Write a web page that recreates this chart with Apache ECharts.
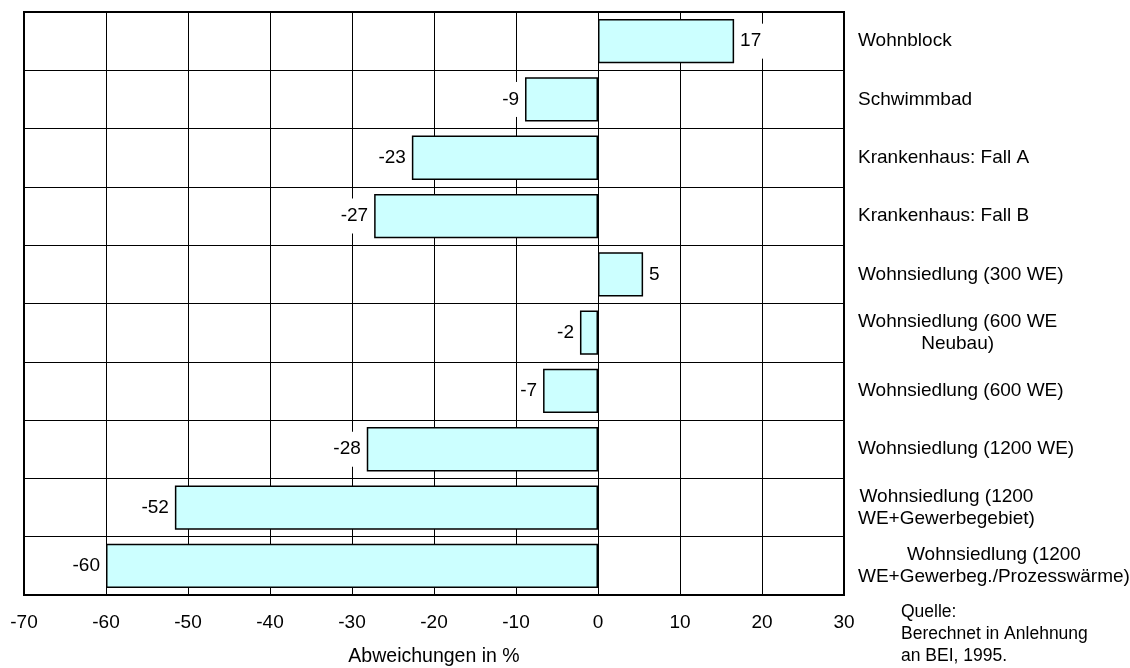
<!DOCTYPE html>
<html>
<head>
<meta charset="utf-8">
<script src="https://cdn.jsdelivr.net/npm/echarts@6/dist/echarts.min.js"></script>
<style>
html,body{margin:0;padding:0;background:#fff;}
#chart{width:1130px;height:668px;}
</style>
</head>
<body>
<div id="chart"></div>
<script>
const categories = [
  "Wohnblock",
  "Schwimmbad",
  "Krankenhaus: Fall A",
  "Krankenhaus: Fall B",
  "Wohnsiedlung (300 WE)",
  "Wohnsiedlung (600 WE\nNeubau)",
  "Wohnsiedlung (600 WE)",
  "Wohnsiedlung (1200 WE)",
  "Wohnsiedlung (1200\nWE+Gewerbegebiet)",
  "Wohnsiedlung (1200\nWE+Gewerbeg./Prozesswärme)"
];
const values = [16.6, -8.9, -22.7, -27.3, 5.5, -2.2, -6.7, -28.2, -51.6, -60.0];
const valueLabels = [17, -9, -23, -27, 5, -2, -7, -28, -52, -60];
const xTicks = { min: -70, max: 30, interval: 10 };
const axisTitle = "Abweichungen in %";
const sourceNote = "Quelle:\nBerechnet in Anlehnung\nan BEI, 1995.";

const FONT = '"Liberation Sans", Arial, sans-serif';
const FS = 19;
const chart = echarts.init(document.getElementById('chart'), null, { renderer: 'canvas' });

chart.setOption({
  animation: false,
  backgroundColor: '#fff',
  textStyle: { fontFamily: FONT, color: '#000' },
  grid: {
    left: 24, right: 286, top: 12, bottom: 73,
    outerBoundsMode: 'none',
    containLabel: false,
    show: true, borderColor: '#000', borderWidth: 2, backgroundColor: 'transparent'
  },
  xAxis: {
    type: 'value',
    min: xTicks.min, max: xTicks.max, interval: xTicks.interval,
    axisLine: { show: false },
    axisTick: { show: false },
    axisLabel: { color: '#000', fontSize: FS, fontFamily: FONT, margin: 18 },
    splitLine: { show: true, lineStyle: { color: '#000', width: 1 } },
    name: axisTitle,
    nameLocation: 'middle',
    nameGap: 52,
    nameTextStyle: { color: '#000', fontSize: 19.5, fontFamily: FONT }
  },
  yAxis: {
    type: 'category',
    data: categories,
    inverse: true,
    position: 'right',
    axisLine: { show: false },
    axisTick: { show: false },
    splitLine: { show: true, lineStyle: { color: '#000', width: 1 } },
    axisLabel: {
      align: 'left',
      margin: 14,
      color: '#000',
      fontSize: FS,
      lineHeight: 22,
      fontFamily: FONT,
      formatter: function (v) {
        return v.split('\n').map(function (l) { return '{c|' + l + '}'; }).join('\n');
      },
      rich: {
        c: { align: 'center', fontSize: FS, lineHeight: 22, color: '#000', fontFamily: FONT }
      }
    }
  },
  series: [{
    type: 'bar',
    data: values.map(function (v) {
      return {
        value: v,
        label: { position: v >= 0 ? 'right' : 'left' }
      };
    }),
    barCategoryGap: '24%',
    itemStyle: { color: '#CCFFFF', borderColor: '#000', borderWidth: 1.5 },
    label: {
      show: true,
      distance: 4,
      color: '#000',
      fontSize: FS,
      fontFamily: FONT,
      backgroundColor: '#fff',
      padding: [8, 2],
      formatter: function (p) { return String(valueLabels[p.dataIndex]); }
    }
  }],
  title: {
    text: sourceNote,
    left: 901, top: 601,
    padding: 0,
    textStyle: { color: '#000', fontSize: 17.5, fontWeight: 'normal', lineHeight: 22, fontFamily: FONT }
  }
});
</script>
</body>
</html>
